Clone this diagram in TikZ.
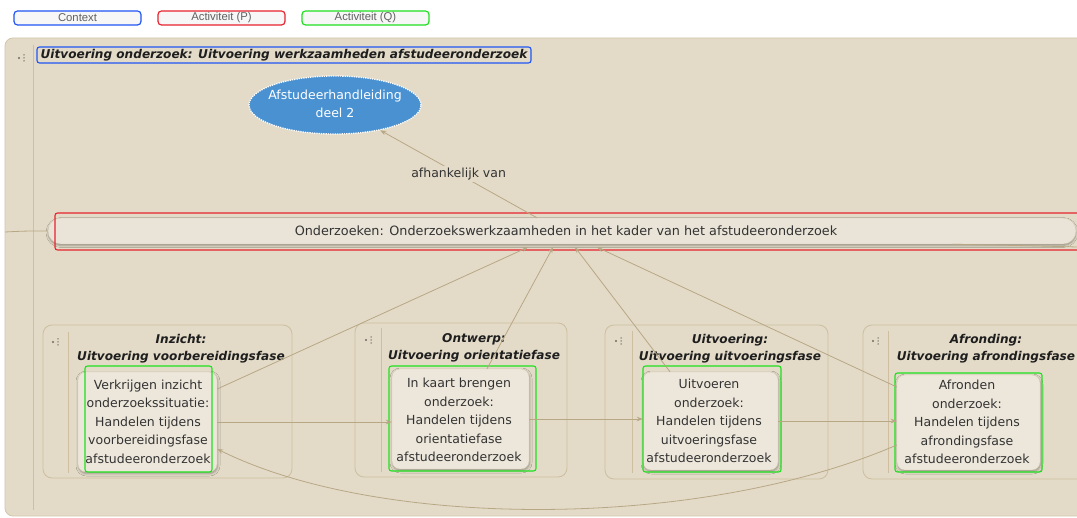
\documentclass[tikz,border=0pt]{standalone}
\usepackage{fontspec}
\setmainfont{DejaVu Sans}
\newfontfamily\legendfont{Liberation Sans}
\usetikzlibrary{shapes.geometric,arrows.meta,shadows.blur}

\definecolor{bgc}{HTML}{E3DBC8}
\definecolor{frame}{HTML}{D2C6AC}
\definecolor{grpline}{HTML}{CDBFA0}
\definecolor{inner}{HTML}{EDE7DB}
\definecolor{innerline}{HTML}{D6CCB8}
\definecolor{barfill}{HTML}{EAE4D8}
\definecolor{linec}{HTML}{B8A785}
\definecolor{txt}{HTML}{333333}
\definecolor{ttltxt}{HTML}{1E1E1E}
\definecolor{ellblue}{HTML}{4A91D2}
\definecolor{selblue}{HTML}{1F55F5}
\definecolor{selred}{HTML}{E8232F}
\definecolor{selgreen}{HTML}{1FE01F}
\definecolor{handlec}{HTML}{6E6A62}

\tikzset{
  grp/.style={draw=grpline, fill=bgc, rounded corners=9pt, line width=0.8pt},
  ttl/.style={align=center, text=ttltxt, inner sep=0pt,
    font=\fontsize{12.1}{17}\selectfont\bfseries\itshape},
  inbox/.style={draw=innerline, fill=inner, rounded corners=8pt, align=center,
    text=txt, inner sep=0pt, font=\fontsize{12.5}{18.5}\selectfont,
    blur shadow={shadow xshift=0.5pt, shadow yshift=-1.5pt,
      shadow blur radius=2.5pt, shadow opacity=35}},
  intext/.style={align=center, text=txt, inner sep=0pt, font=\fontsize{12.5}{18.5}\selectfont},
  selbox/.style={draw=#1, rounded corners=2.5pt, line width=1.1pt},
  legend/.style={draw=#1, rounded corners=3.5pt, line width=1.2pt, fill=gray!6,
    minimum width=127pt, minimum height=14pt, inner sep=0pt,
    text=gray!75!black, font=\legendfont\fontsize{11.3}{12}\selectfont},
  conn/.style={draw=linec, line width=0.8pt},
  arr/.style={conn, -{Stealth[length=6pt,width=4.5pt]}},
  vline/.style={draw=grpline, line width=0.8pt},
  pics/handle/.style={code={
    \fill[handlec] (0,0) circle (1.1);
    \fill[handlec] (5,-3) circle (0.75);
    \fill[handlec] (5,0) circle (0.75);
    \fill[handlec] (5,3) circle (0.75);
  }}
}

\begin{document}
\begin{tikzpicture}[x=1pt,y=-1pt]
\useasboundingbox (0,0) rectangle (1077,518);
\fill[white] (0,0) rectangle (1077,518);
\begin{scope}
\clip (0,0) rectangle (1077,518);

% legend
\node[legend=selblue]  (lc) at (77.5,18)  {Context};
\node[legend=selred]   (lp) at (221.5,18) {Activiteit (P)};
\node[legend=selgreen] (lq) at (365.5,18) {Activiteit (Q)};

% outer container
\draw[fill=bgc, draw=frame, line width=0.8pt, rounded corners=8pt] (5,38) rectangle (1100,516);
\draw[vline] (33,45) -- (33,510);
\pic at (19,58) {handle};

% container title
\node[draw=selblue, rounded corners=2.5pt, line width=1.1pt, minimum width=494pt,
  minimum height=16pt, inner sep=0pt, text=ttltxt,
  font=\fontsize{12.1}{14}\selectfont\bfseries\itshape] (title) at (284,55)
  {Uitvoering onderzoek: Uitvoering werkzaamheden afstudeeronderzoek};

% source document
\node[ellipse, fill=ellblue, draw=white, densely dotted, line width=1.3pt,
  minimum width=172pt, minimum height=58pt, inner sep=0pt] (ell) at (335,105) {};
\node[text=white, align=center, inner sep=0pt,
  font=\fontsize{12.5}{18}\selectfont] (elltext) at (335,104) {Afstudeerhandleiding\\deel 2};

% main activity bar
\node[fill=barfill, draw=innerline, rounded corners=13pt, minimum width=1028pt,
  minimum height=26pt, inner sep=0pt,
  blur shadow={shadow xshift=0pt, shadow yshift=-1.5pt, shadow blur radius=2pt, shadow opacity=35}]
  (bar) at (562,231) {};
\node[text=txt, font=\fontsize{12.8}{15}\selectfont, inner sep=0pt] (bartext) at (566,231)
  {Onderzoeken: Onderzoekswerkzaamheden in het kader van het afstudeeronderzoek};
\node[selbox=selred, minimum width=1030pt, minimum height=37pt, inner sep=0pt] (barsel) at (570,231.5) {};

% phase groups
\node[grp, minimum width=249pt, minimum height=153pt] (g1) at (167.5,401.5) {};
\node[grp, minimum width=212pt, minimum height=154pt] (g2) at (461,400) {};
\node[grp, minimum width=223pt, minimum height=154pt] (g3) at (716.5,402) {};
\node[grp, minimum width=232pt, minimum height=154pt] (g4) at (979,402) {};

\draw[vline] (68,332) -- (68,473);
\draw[vline] (381,328) -- (381,472);
\draw[vline] (632,331) -- (632,473);
\draw[vline] (888,331) -- (888,473);
\pic at (53,342) {handle};
\pic at (366,340) {handle};
\pic at (616,341) {handle};
\pic at (873,341) {handle};

\node[ttl] (t1) at (181,349) {Inzicht:\\Uitvoering voorbereidingsfase};
\node[ttl] (t2) at (474,347.5) {Ontwerp:\\Uitvoering orientatiefase};
\node[ttl] (t3) at (730,349) {Uitvoering:\\Uitvoering uitvoeringsfase};
\node[ttl] (t4) at (986,349) {Afronding:\\Uitvoering afrondingsfase};

% activities
\node[inbox, minimum width=139pt, minimum height=100pt] (in1) at (147.5,422) {};
\node[inbox, minimum width=137pt, minimum height=100pt] (in2) at (460.5,419) {};
\node[inbox, minimum width=135pt, minimum height=98pt]  (in3) at (710.5,421) {};
\node[inbox, minimum width=143pt, minimum height=95pt]  (in4) at (968.5,422.5) {};

\node[intext] (x1) at (148,421.5)
  {Verkrijgen inzicht\\onderzoekssituatie:\\Handelen tijdens\\voorbereidingsfase\\afstudeeronderzoek};
\node[intext] (x2) at (459,420)
  {In kaart brengen\\onderzoek:\\Handelen tijdens\\orientatiefase\\afstudeeronderzoek};
\node[intext] (x3) at (709,421)
  {Uitvoeren\\onderzoek:\\Handelen tijdens\\uitvoeringsfase\\afstudeeronderzoek};
\node[intext] (x4) at (967,422)
  {Afronden\\onderzoek:\\Handelen tijdens\\afrondingsfase\\afstudeeronderzoek};

\node[selbox=selgreen, minimum width=127pt, minimum height=106pt, inner sep=0pt] (s1) at (148.5,419) {};
\node[selbox=selgreen, minimum width=147pt, minimum height=105pt, inner sep=0pt] (s2) at (462.5,418.5) {};
\node[selbox=selgreen, minimum width=138pt, minimum height=106pt, inner sep=0pt] (s3) at (712,419) {};
\node[selbox=selgreen, minimum width=147pt, minimum height=99pt,  inner sep=0pt] (s4) at (968.5,422.5) {};

% connectors
\coordinate (leftin) at (5,232);
\coordinate (rightout) at (1077,247);
\draw[conn] (leftin) .. controls (25,231) .. (bar.west);
\draw[conn] ([xshift=390pt]bar.south) .. controls (1040,246) .. (rightout);

\draw[arr] ([xshift=-25pt]bar.north) -- node[midway, fill=bgc, inner sep=2pt, text=txt,
  font=\fontsize{12.5}{15}\selectfont] (dep) {afhankelijk van} (ell);

\draw[arr] ([yshift=33pt]in1.east) -- ([xshift=-34pt,yshift=-3pt]bar.south);
\draw[arr] ([xshift=26.5pt]in2.north) -- ([xshift=-9pt,yshift=-3pt]bar.south);
\draw[arr] ([xshift=-40.5pt]in3.north) -- ([xshift=13pt,yshift=-3pt]bar.south);
\draw[arr] ([yshift=35.5pt]in4.west) -- ([xshift=35pt,yshift=-3pt]bar.south);

\draw[arr] (in1.east) -- (in1.east -| in2.west);
\draw[arr] (in2.east) -- (in2.east -| in3.west);
\draw[arr] (in3.east) -- (in3.east -| in4.west);

\draw[arr] ([yshift=-22.5pt]in4.west) .. controls (700,530) and (380,530) .. ([yshift=-27pt]in1.east);
\end{scope}
\end{tikzpicture}
\end{document}
